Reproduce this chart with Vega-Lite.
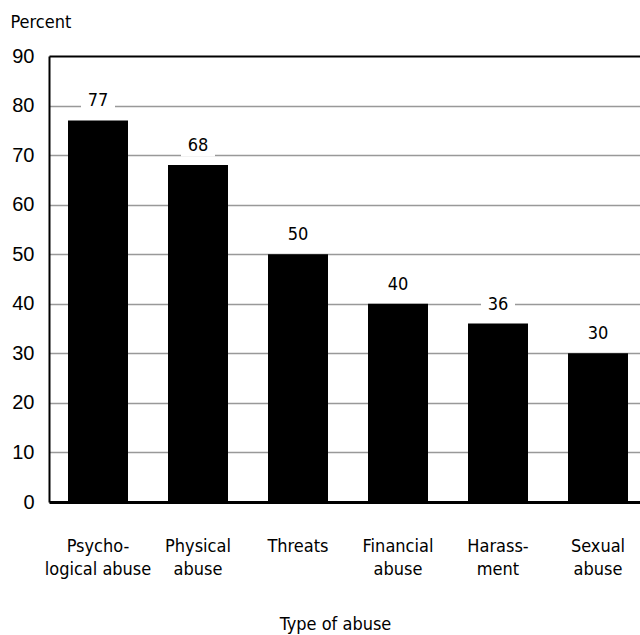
{
  "$schema": "https://vega.github.io/schema/vega-lite/v6.json",
  "width": 591,
  "height": 446,
  "autosize": {"type": "none"},
  "padding": {"left": 49, "top": 56, "right": 0, "bottom": 133},
  "background": "white",
  "config": {
    "view": {"stroke": null},
    "font": "DejaVu Sans Condensed, sans-serif",
    "axis": {"labelColor": "black", "titleColor": "black", "titleFontWeight": "normal"}
  },
  "data": {
    "values": [
      {"type": "Psycho-\nlogical abuse", "percent": 77},
      {"type": "Physical\nabuse", "percent": 68},
      {"type": "Threats", "percent": 50},
      {"type": "Financial\nabuse", "percent": 40},
      {"type": "Harass-\nment", "percent": 36},
      {"type": "Sexual\nabuse", "percent": 30}
    ]
  },
  "encoding": {
    "x": {
      "field": "type",
      "type": "nominal",
      "sort": null,
      "scale": {"paddingInner": 0.4, "paddingOuter": 0.155, "align": 0.613},
      "axis": {
        "title": "Type of abuse",
        "titleFontSize": 18,
        "titleX": 286,
        "titleY": 127,
        "titleAlign": "center",
        "titleBaseline": "alphabetic",
        "labelAngle": 0,
        "labelFontSize": 18,
        "labelLineHeight": 23,
        "labelPadding": 35,
        "labelBaseline": "top",
        "labelExpr": "split(datum.value, '\\n')",
        "ticks": false,
        "domainColor": "black",
        "domainWidth": 3,
        "grid": false
      }
    },
    "y": {
      "field": "percent",
      "type": "quantitative",
      "scale": {"domain": [0, 90], "nice": false},
      "axis": {
        "title": "Percent",
        "titleAngle": 0,
        "titleFontSize": 18,
        "titleAlign": "left",
        "titleBaseline": "alphabetic",
        "titleX": -39,
        "titleY": -29,
        "values": [0, 10, 20, 30, 40, 50, 60, 70, 80, 90],
        "labelFont": "Liberation Sans, Arial, sans-serif",
        "labelFontSize": 20,
        "labelPadding": 15,
        "ticks": false,
        "domainColor": "black",
        "domainWidth": 2,
        "grid": true,
        "gridColor": {"condition": {"test": "datum.value === 90", "value": "black"}, "value": "#999999"},
        "gridWidth": {"condition": {"test": "datum.value === 90", "value": 2}, "value": 1.5},
        "gridOpacity": 1
      }
    }
  },
  "layer": [
    {"mark": {"type": "bar", "color": "black"}},
    {
      "mark": {"type": "tick", "orient": "horizontal", "color": "white", "opacity": 1, "size": 34, "thickness": 25, "yOffset": -21}
    },
    {
      "mark": {"type": "text", "fontSize": 18, "color": "black", "baseline": "alphabetic", "dy": -14},
      "encoding": {"text": {"field": "percent", "type": "quantitative"}}
    }
  ]
}
